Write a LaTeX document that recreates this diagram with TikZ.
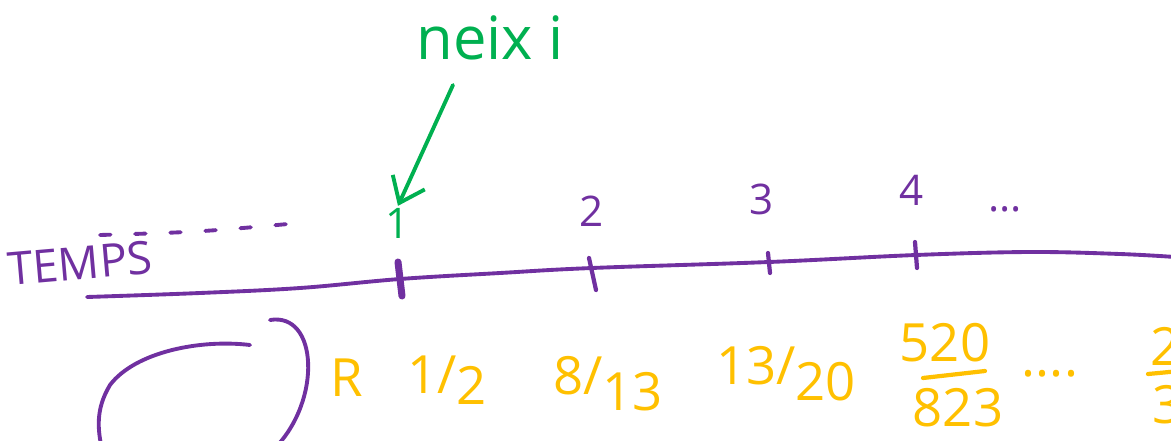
\documentclass[tikz,border=0pt]{standalone}
\usepackage{fontspec}
\setmainfont{Open Sans}
\usetikzlibrary{arrows.meta, positioning}

\definecolor{tempsviolet}{RGB}{112,48,160}
\definecolor{neixgreen}{RGB}{0,176,80}
\definecolor{fracyellow}{RGB}{255,192,0}

\tikzset{
  timeline/.style={draw=tempsviolet, line width=2.2pt, line cap=round},
  tickmark/.style={draw=tempsviolet, line width=2.4pt, line cap=round},
  steplabel/.style={text=tempsviolet, font=\fontsize{24}{28}\selectfont, inner sep=1pt},
  fraclabel/.style={text=fracyellow, font=\fontsize{30}{34}\selectfont, inner sep=1pt},
}

\begin{document}
\begin{tikzpicture}[x=0.02cm, y=-0.02cm]
 \useasboundingbox (0,0) rectangle (1171,440);
 \clip (0,0) rectangle (1171,440);

 \coordinate (T1) at (400,279);
 \coordinate (T2) at (592,268);
 \coordinate (T3) at (769,262);
 \coordinate (T4) at (916,255);

 %axis:
 \draw[timeline] plot[smooth, tension=0.6] coordinates
   {(87,297) (200,293) (300,288) (T1) (500,273) (T2) (T3) (T4) (1030,252) (1120,254) (1175,257)};
 \draw[timeline, dash pattern=on 6pt off 14pt] (100,235) .. controls (200,232) .. (310,222);
 \node[text=tempsviolet, font=\fontsize{26}{30}\selectfont, rotate=5] (temps) at (80,263) {TEMPS};

 %ticks:
 \draw[tickmark, line width=4pt] (T1) +(-2,-17) -- +(2,17);
 \draw[tickmark] (T2) +(-3,-10) -- +(4,22);
 \draw[tickmark] (T3) +(-1,-9) -- +(1,11);
 \draw[tickmark] (T4) +(-1,-13) -- +(1,13);

 \node[steplabel, text=neixgreen] (n1) at (398,223) {1};
 \node[steplabel] (n2) at (592,211) {2};
 \node[steplabel] (n3) at (762,199) {3};
 \node[steplabel] (n4) at (912,190) {4};
 \node[steplabel] (ndots) at (1005,209) {...};

 %birth:
 \node[text=neixgreen, font=\fontsize{34}{38}\selectfont] (neix) at (490,38) {neix i};
 \coordinate (arrstart) at (453,85);
 \draw[neixgreen, line width=2.2pt, line cap=round,
   -{Straight Barb[length=13pt, width=20pt, line width=2.2pt]}]
   (arrstart) -- (n1.north);

 %loop:
 \draw[timeline] (250,345) .. controls (200,339) and (135,352) .. (110,385)
   .. controls (95,410) and (98,430) .. (102,450);
 \draw[timeline] (270,320) .. controls (318,312) and (322,400) .. (275,448);

 %values:
 \node[fraclabel] (vR) at (347,378) {R};
 \node[fraclabel] (v1) at (447,380) {1/\raisebox{-.2em}{2}};
 \node[fraclabel] (v2) at (608,384) {8/\raisebox{-.3em}{13}};
 \node[fraclabel] (v3) at (786,374) {13/\raisebox{-.3em}{20}};
 \node[fraclabel] (v4top) at (945,343) {520};
 \node[fraclabel] (v4bot) at (958,408) {823};
 \draw[fracyellow, line width=2.4pt, line cap=round] (923,378) -- (985,371);
 \node[fraclabel] (vdots) at (1050,374) {....};
 \node[fraclabel] (v5top) at (1166,346) {2};
 \node[fraclabel] (v5bot) at (1168,405) {3};
 \draw[fracyellow, line width=2.4pt, line cap=round] (1148,374) -- (1180,371);
\end{tikzpicture}
\end{document}
